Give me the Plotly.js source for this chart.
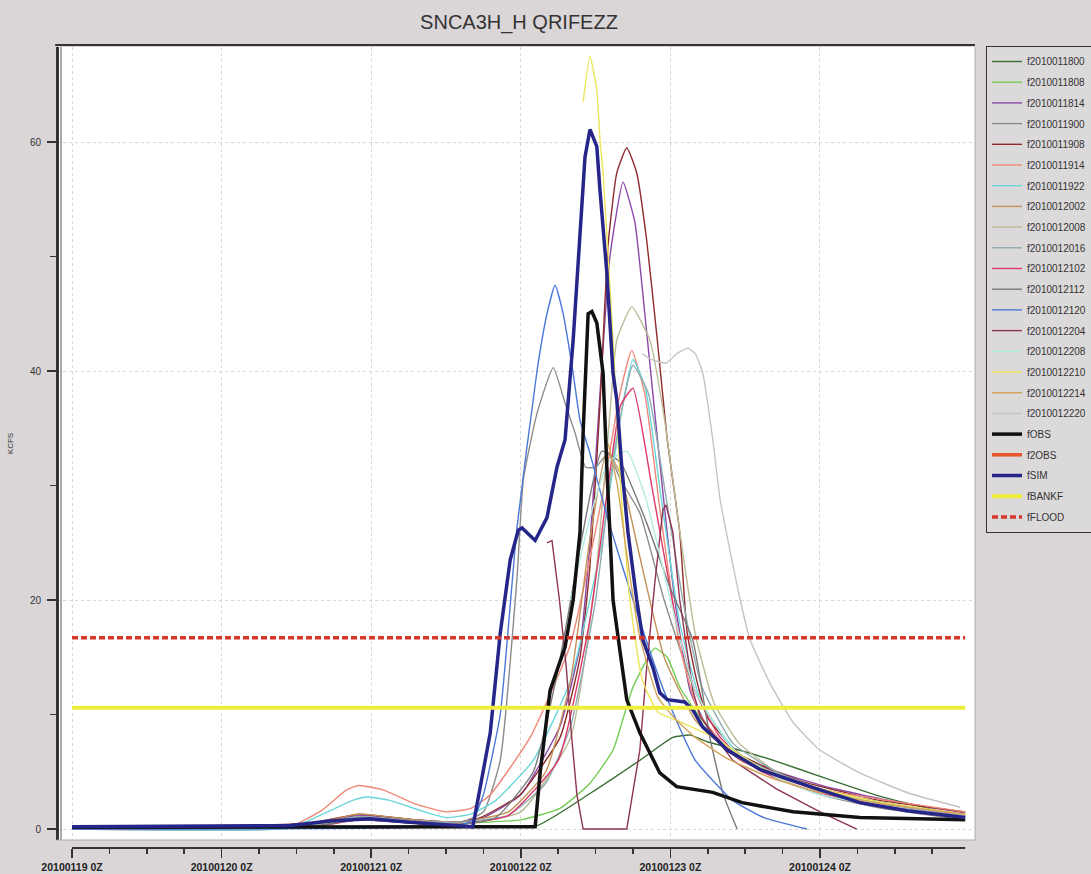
<!DOCTYPE html>
<html>
<head>
<meta charset="utf-8">
<script src="https://cdn.plot.ly/plotly-3.0.1.min.js"></script>
<style>
  html, body { margin: 0; padding: 0; background: #dad6d8; }
  #chart { width: 1091px; height: 874px; }
</style>
</head>
<body>
<div id="chart"></div>
<script>
// ---------- axis labels (hours from 2010-01-19 00Z) ----------
const dayTickHours = [0, 24, 48, 72, 96, 120];
const dayTickLabels = ["20100119 0Z", "20100120 0Z", "20100121 0Z", "20100122 0Z", "20100123 0Z", "20100124 0Z"];
const minorTickHours = [6, 12, 18, 30, 36, 42, 54, 60, 66, 78, 84, 90, 102, 108, 114, 126, 132, 138];

// ---------- forecast series (hours, KCFS) ----------
const h_f2010011800 = [0, 40, 46, 55, 62, 74.6, 83.1, 91.1, 96.4, 99.2, 102, 107, 113.6, 120, 130, 143.3];
const v_f2010011800 = [0, 0.4, 0.9, 0.5, 0.2, 0.3, 3.1, 6.0, 8.0, 8.2, 7.6, 6.9, 5.8, 4.6, 2.8, 1.0];

const h_f2010011808 = [0, 38, 46, 55, 62, 72, 78.3, 83.1, 86.8, 90, 93.5, 95.5, 97.5, 100.3, 104, 110, 118, 128, 143.3];
const v_f2010011808 = [0, 0.4, 1.0, 0.7, 0.5, 0.8, 1.8, 4, 6.9, 12.4, 15.8, 15.0, 12.4, 10.1, 7.5, 5.5, 3.8, 2.5, 1.2];

const h_f2010011814 = [0, 38, 46, 55, 62, 66, 72, 78.3, 81.5, 83.1, 84.7, 86.3, 88.4, 90.3, 91.9, 94.3, 96.7, 99.2, 102.4, 107, 113, 121.6, 132, 143.3];
const v_f2010011814 = [0, 0.4, 1.2, 0.8, 0.6, 1.0, 3, 9, 16, 25, 38, 50, 56.5, 53, 45, 32, 20, 12, 8.5, 6.3, 5.0, 3.6, 2.4, 1.4];

const h_f2010011900 = [0, 38, 46, 55, 62, 66, 68.7, 71.4, 72.4, 74.6, 77.2, 79.1, 80.7, 82.4, 84, 86, 88, 91.1, 95, 100, 106, 113, 120, 130, 143.3];
const v_f2010011900 = [0, 0.3, 1.0, 0.6, 0.5, 1.5, 6, 22, 30.5, 36.3, 40.3, 37.2, 34.6, 31.6, 31.6, 32.8, 30.5, 27.6, 20, 12, 7, 4.5, 3, 1.8, 0.8];

const h_f2010011908 = [0, 38, 46, 55, 62, 65.5, 71.9, 78.3, 81.5, 83.1, 84.7, 86, 87.4, 89, 90.6, 92.2, 93.9, 95.5, 97.5, 98.7, 100.3, 101.9, 107.2, 116.8, 129.6, 143.3];
const v_f2010011908 = [0, 0.5, 1.3, 0.8, 0.6, 1, 3, 8, 15, 23, 37, 51, 57.3, 59.5, 57.3, 51.4, 42.7, 34, 25.9, 17.1, 12.8, 9.8, 6.5, 4.2, 2.5, 1.5];

const h_f2010011914 = [0, 34.5, 40, 44, 46, 50, 55, 60, 64, 67.1, 73.5, 79.9, 84.7, 87.9, 89.8, 91.9, 94.3, 97.5, 100.7, 107.2, 120, 143.3];
const v_f2010011914 = [0, 0.1, 1.6, 3.4, 3.8, 3.4, 2.2, 1.5, 1.8, 3, 8, 16, 28, 38, 41.8, 38, 28, 16, 10, 6, 3.5, 1.5];

const h_f2010011922 = [0, 35, 41, 45, 47.3, 51, 56, 60, 64, 68, 74, 80, 85, 88, 90, 92, 94.5, 97.5, 101, 107, 115, 125, 143.3];
const v_f2010011922 = [0, 0.1, 1.5, 2.5, 2.8, 2.5, 1.6, 1.0, 1.3, 2.5, 6, 13, 25, 36, 41, 38.5, 29, 18, 11, 6.5, 4.3, 2.8, 1.2];

const h_f2010012002 = [0, 38, 46, 55, 62, 70, 76, 80, 83, 85.8, 88, 91, 95, 100, 106, 113, 120, 130, 143.3];
const v_f2010012002 = [0, 0.4, 1.3, 0.8, 0.6, 1.5, 5, 13, 25, 33, 31, 24, 15, 9.5, 6.5, 4.6, 3.4, 2.3, 1.2];

const h_f2010012008 = [0, 38, 46, 55, 62, 72, 80, 84, 86.3, 87.4, 89.8, 92.7, 95, 97.5, 100, 103, 107, 113, 120, 130, 143.3];
const v_f2010012008 = [0, 0.3, 0.9, 0.6, 0.4, 1.5, 8, 22, 36.3, 42.7, 45.6, 42.7, 36, 26, 17, 11, 7.5, 5, 3.3, 2, 1.2];

const h_f2010012016 = [0, 38, 46, 55, 62, 70, 76, 80, 84, 87, 90, 92.5, 95, 98, 101, 106, 113, 120, 130, 143.3];
const v_f2010012016 = [0, 0.3, 1.1, 0.7, 0.6, 1.2, 4, 9, 20, 33, 40.5, 38, 30, 20, 12.5, 7.5, 5, 3.5, 2.2, 1.1];

const h_f2010012102 = [0, 40, 46, 55, 62, 70, 78, 83, 86, 88, 90, 93, 97, 100, 104, 110, 116, 124, 134, 143.3];
const v_f2010012102 = [0, 0.3, 0.8, 0.5, 0.4, 1.2, 6, 18, 30, 37, 38.5, 30, 18, 12, 8, 5.2, 3.8, 2.6, 1.7, 1.1];

const h_f2010012112 = [0, 38, 46, 55, 62, 68, 74, 78, 82, 85, 88, 92, 96, 99.6, 102.4, 104.5, 106.7];
const v_f2010012112 = [0, 0.2, 0.8, 0.5, 0.4, 1, 5, 14, 26, 33, 32, 27, 21, 16.5, 7.8, 3, 0];

const h_f2010012120 = [0, 62, 64.3, 66, 68.7, 71.4, 74.6, 76.2, 77.5, 78.8, 80.4, 81.5, 83.1, 86, 90, 95, 100, 106, 111, 117.9];
const v_f2010012120 = [0, 0.3, 0.8, 3, 10, 26.4, 40, 45, 47.5, 45, 39.8, 35.7, 32.8, 27, 20, 12, 6, 2.5, 1, 0];

const h_f2010012204 = [76.2, 77, 78.2, 79.3, 80.1, 81, 82, 89, 91.1, 92.2, 93.5, 94.8, 95.3, 96.4, 97.5, 98.7, 99.6, 100.8, 106, 113, 120, 125.9];
const v_f2010012204 = [25, 25.2, 20, 14.1, 8.4, 3, 0, 0, 6.9, 14.1, 21.5, 27.9, 28.3, 25.9, 20, 15.6, 12.1, 9.8, 6, 3.5, 1.5, 0];

const h_f2010012208 = [80, 83, 86, 89, 92, 96, 100, 106, 113, 120, 130, 143.3];
const v_f2010012208 = [20, 27, 32, 33, 29, 20, 12, 7, 4.5, 3, 2, 1.1];

const h_f2010012210 = [82, 83.1, 84.2, 84.7, 85.2, 86.8, 88, 89.5, 91.5, 94, 97, 103, 110, 118, 128, 143.3];
const v_f2010012210 = [63.5, 67.5, 64.5, 60.2, 57.3, 42.7, 30, 20, 13, 10.2, 9.5, 8, 5.5, 3.8, 2.5, 1.3];

const h_f2010012214 = [86, 87.5, 89, 91, 94, 97, 100, 105, 112, 120, 130, 143.3];
const v_f2010012214 = [33.7, 30, 24, 17, 11.5, 9.5, 8, 6.2, 4.5, 3.2, 2.2, 1.3];

const h_f2010012220 = [91.5, 93, 95.3, 97, 98.8, 100, 101.2, 102.8, 104, 107.2, 108.8, 112, 115.7, 120, 126.4, 134.4, 142.5];
const v_f2010012220 = [41.5, 41, 40.7, 41.5, 42, 41.5, 39.8, 34, 28.7, 20, 16.5, 12.7, 9.3, 6.9, 4.9, 3.1, 1.9];

// ---------- observed / simulated ----------
const h_fOBS = [0, 74.3, 75.1, 76.7, 79.1, 80.4, 81.5, 82.0, 82.8, 83.4, 84.2, 85.2, 85.8, 86.3, 86.8, 87.9, 89.0, 91.1, 94.3, 97.0, 102.8, 107.5, 115.7, 126.4, 134, 143.3];
const v_fOBS = [0.15, 0.2, 4.9, 12.1, 15.9, 20, 25.9, 34.6, 45.0, 45.2, 44.2, 39.8, 31.6, 25.9, 20, 15.6, 11.3, 8.4, 4.9, 3.7, 3.2, 2.3, 1.5, 1.0, 0.9, 0.8];

const h_fSIM = [0, 35, 41.4, 47.8, 54.2, 60.6, 64.3, 65.1, 67.1, 68.7, 70.3, 71.6, 72.2, 74.3, 76.2, 77.8, 79.1, 80.4, 81.5, 82.3, 83.1, 84.2, 84.7, 85.8, 86.8, 87.4, 88.2, 89.2, 90.6, 91.6, 93.2, 94.3, 95.5, 98.3, 99.6, 101.2, 103.5, 105.1, 110.4, 118.4, 126.4, 134, 143.3];
const v_fSIM = [0.2, 0.3, 0.7, 0.9, 0.6, 0.3, 0.2, 2.5, 8.4, 17.1, 23.5, 26.1, 26.3, 25.2, 27.2, 31.6, 34.0, 42.7, 51.4, 58.7, 61.1, 59.6, 55.8, 48.6, 39.8, 37.5, 31.6, 25.9, 20, 16.5, 14.1, 11.9, 11.3, 11.1, 10.4, 8.9, 7.8, 6.9, 5.2, 3.7, 2.3, 1.6, 1.0];

const h_span = [0, 143.3];
const bankfull = 10.6;
const floodStage = 16.7;

// ---------- styles ----------
const thinSeries = [
  ["f2010011800", h_f2010011800, v_f2010011800, "#3b6e36", "spline"],
  ["f2010011808", h_f2010011808, v_f2010011808, "#74cc55", "spline"],
  ["f2010011814", h_f2010011814, v_f2010011814, "#8a48a8", "spline"],
  ["f2010011900", h_f2010011900, v_f2010011900, "#8c8c8c", "spline"],
  ["f2010011908", h_f2010011908, v_f2010011908, "#8e2c2c", "spline"],
  ["f2010011914", h_f2010011914, v_f2010011914, "#f08878", "spline"],
  ["f2010011922", h_f2010011922, v_f2010011922, "#6ad6da", "spline"],
  ["f2010012002", h_f2010012002, v_f2010012002, "#c39058", "spline"],
  ["f2010012008", h_f2010012008, v_f2010012008, "#bdbb96", "spline"],
  ["f2010012016", h_f2010012016, v_f2010012016, "#8fabb0", "spline"],
  ["f2010012102", h_f2010012102, v_f2010012102, "#dc3a6a", "spline"],
  ["f2010012112", h_f2010012112, v_f2010012112, "#7a7a7a", "spline"],
  ["f2010012120", h_f2010012120, v_f2010012120, "#4a78d8", "spline"],
  ["f2010012204", h_f2010012204, v_f2010012204, "#8d3353", "linear"],
  ["f2010012208", h_f2010012208, v_f2010012208, "#b2ece2", "spline"],
  ["f2010012210", h_f2010012210, v_f2010012210, "#ece45a", "spline"],
  ["f2010012214", h_f2010012214, v_f2010012214, "#d4a45a", "spline"],
  ["f2010012220", h_f2010012220, v_f2010012220, "#c4c4c4", "spline"]
];

const traces = thinSeries.map(s => ({
  type: "scatter", mode: "lines", name: s[0], legendgroup: s[0],
  x: s[1], y: s[2],
  line: s[4] === "spline"
    ? { color: s[3], width: 1.4, shape: "spline", smoothing: 0.45 }
    : { color: s[3], width: 1.4, shape: "linear" }
}));

traces.push({ type: "scatter", mode: "lines", name: "fOBS", legendgroup: "fOBS",
  x: h_fOBS, y: v_fOBS, line: { color: "#111111", width: 3.5 } });
traces.push({ type: "scatter", mode: "lines", name: "f2OBS", legendgroup: "f2OBS",
  x: [0], y: [null], line: { color: "#e8552a", width: 3.5 } });
traces.push({ type: "scatter", mode: "lines", name: "fSIM", legendgroup: "fSIM",
  x: h_fSIM, y: v_fSIM, line: { color: "#26268a", width: 3.5 } });
traces.push({ type: "scatter", mode: "lines", name: "fBANKF", legendgroup: "fBANKF",
  x: h_span, y: [bankfull, bankfull], line: { color: "#eeee3a", width: 4 } });
traces.push({ type: "scatter", mode: "lines", name: "fFLOOD", legendgroup: "fFLOOD",
  x: h_span, y: [floodStage, floodStage], line: { color: "#d4382a", width: 3.5, dash: "6px,3px" } });

const L = 57, R = 116, T = 47, B = 26;
const plotH = 874 - T - B;
const yBottomFrac = 8 / plotH;

const layout = {
  width: 1091, height: 874,
  paper_bgcolor: "#dad6d8",
  plot_bgcolor: "#ffffff",
  margin: { l: L, r: R, t: T, b: B, pad: 0 },
  title: {
    text: "SNCA3H_H QRIFEZZ",
    font: { family: "Liberation Sans, Arial, sans-serif", size: 20, color: "#333333" },
    xref: "container", yref: "container", x: 519 / 1091, y: 1 - 22 / 874,
    xanchor: "center", yanchor: "middle"
  },
  showlegend: true,
  legend: {
    xref: "container", yref: "container",
    x: 986 / 1091, y: 1 - 46 / 874, xanchor: "left", yanchor: "top",
    bgcolor: "#dcd9da", bordercolor: "#333333", borderwidth: 1,
    font: { family: "Liberation Sans, Arial, sans-serif", size: 10, color: "#333333" },
    tracegroupgap: 1.7, itemwidth: 30, maxheight: 800
  },
  xaxis: {
    range: [-2.41, 144.87],
    domain: [0, 1],
    anchor: "free", position: 0,
    showline: false, zeroline: false,
    tickmode: "array", tickvals: dayTickHours, ticktext: dayTickLabels,
    ticks: "outside", ticklen: 9, tickwidth: 1.5, tickcolor: "#333333",
    tickfont: { family: "Liberation Sans, Arial, sans-serif", size: 10.5, color: "#222222", weight: "bold" },
    showgrid: true, gridcolor: "#d6d6d6", griddash: "dot", gridwidth: 1,
    minor: { tickmode: "array", tickvals: minorTickHours, ticks: "outside", ticklen: 5, tickwidth: 1.5, tickcolor: "#333333", showgrid: false }
  },
  yaxis: {
    range: [-0.96, 68.3],
    domain: [yBottomFrac, 1],
    anchor: "free", position: 0,
    showline: true, linecolor: "#333333", linewidth: 2.5,
    zeroline: false,
    tickmode: "linear", tick0: 0, dtick: 20,
    ticks: "outside", ticklen: 9, tickwidth: 1.2, tickcolor: "#333333",
    ticklabelstandoff: 4,
    tickfont: { family: "Liberation Sans, Arial, sans-serif", size: 10, color: "#333333" },
    showgrid: true, gridcolor: "#d6d6d6", griddash: "dot", gridwidth: 1,
    minor: { dtick: 10, ticks: "outside", ticklen: 6, tickwidth: 1.2, tickcolor: "#333333", showgrid: false },
    title: { text: "KCFS", font: { family: "Liberation Sans, Arial, sans-serif", size: 8, color: "#333333" }, standoff: 14 }
  },
  shapes: [
    { type: "line", xref: "x", yref: "paper", x0: 0, x1: 143.3, y0: 0, y1: 0, line: { color: "#333333", width: 1.8 } },
    { type: "line", xref: "paper", yref: "paper", x0: -0.002, x1: 1, y0: 1 + 2 / plotH, y1: 1 + 2 / plotH, line: { color: "#333333", width: 2 } },
    { type: "line", xref: "paper", yref: "paper", x0: 4 / 918, x1: 4 / 918, y0: yBottomFrac, y1: 1, line: { color: "#555555", width: 1 } },
    { type: "line", xref: "paper", yref: "paper", x0: 1, x1: 1, y0: yBottomFrac, y1: 1, line: { color: "#aaaaaa", width: 1 } },
    { type: "line", xref: "paper", yref: "paper", x0: 0, x1: 1, y0: yBottomFrac, y1: yBottomFrac, line: { color: "#aaaaaa", width: 1 } }
  ]
};

Plotly.newPlot("chart", traces, layout, { displayModeBar: false, staticPlot: true });
</script>
</body>
</html>
